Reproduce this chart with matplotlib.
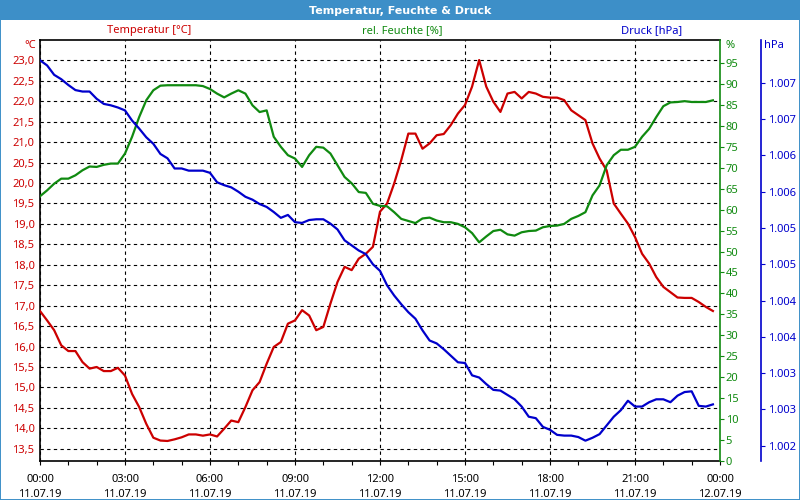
import numpy as np
import pandas as pd
import matplotlib
matplotlib.use("Agg")
import matplotlib.pyplot as plt
import matplotlib.dates as mdates
from matplotlib.patches import Rectangle
from matplotlib.ticker import FuncFormatter, FixedLocator

plt.rcParams["font.family"] = ["Noto Sans", "DejaVu Sans"]

# 15-minute readings, 11.07.19 00:00 .. 23:45
times = pd.date_range("2019-07-11 00:00", periods=96, freq="15min").to_numpy()

temperature = [
    16.87, 16.64, 16.40, 16.03, 15.89, 15.89, 15.62, 15.46,
    15.50, 15.40, 15.40, 15.48, 15.29, 14.84, 14.52, 14.11,
    13.77, 13.70, 13.69, 13.73, 13.78, 13.85, 13.85, 13.82,
    13.85, 13.80, 13.99, 14.19, 14.15, 14.52, 14.93, 15.13,
    15.58, 15.99, 16.11, 16.56, 16.64, 16.89, 16.76, 16.40,
    16.48, 17.05, 17.58, 17.95, 17.87, 18.15, 18.27, 18.44,
    19.30, 19.50, 19.99, 20.56, 21.21, 21.21, 20.84, 20.97,
    21.17, 21.20, 21.42, 21.70, 21.91, 22.36, 23.01, 22.36,
    21.99, 21.74, 22.19, 22.23, 22.07, 22.23, 22.19, 22.11,
    22.09, 22.09, 22.03, 21.78, 21.66, 21.54, 20.97, 20.60,
    20.31, 19.50, 19.25, 19.01, 18.68, 18.27, 18.03, 17.70,
    17.46, 17.33, 17.20, 17.19, 17.19, 17.09, 16.97, 16.87,
]

humidity = [
    63.2, 64.6, 66.2, 67.4, 67.4, 68.2, 69.4, 70.3,
    70.2, 70.7, 71.0, 71.0, 73.4, 77.4, 82.1, 86.1,
    88.5, 89.6, 89.7, 89.7, 89.7, 89.7, 89.7, 89.5,
    88.8, 87.7, 86.8, 87.7, 88.5, 87.7, 84.9, 83.3,
    83.7, 77.4, 75.0, 73.0, 72.2, 70.2, 73.0, 75.0,
    74.8, 73.4, 70.6, 67.8, 66.3, 64.2, 64.0, 61.4,
    60.9, 60.8, 59.4, 57.8, 57.3, 56.8, 57.9, 58.1,
    57.4, 57.0, 57.0, 56.6, 55.8, 54.4, 52.2, 53.6,
    54.9, 55.2, 54.1, 53.8, 54.6, 54.9, 55.0, 55.8,
    56.1, 56.2, 56.6, 57.8, 58.5, 59.4, 63.4, 65.8,
    70.6, 73.0, 74.3, 74.3, 75.0, 77.4, 79.3, 82.1,
    84.7, 85.6, 85.7, 85.9, 85.7, 85.7, 85.7, 86.1,
]

pressure = [
    1007.31, 1007.24, 1007.11, 1007.05, 1006.97, 1006.90, 1006.88, 1006.88,
    1006.78, 1006.71, 1006.69, 1006.66, 1006.62, 1006.48, 1006.37, 1006.25,
    1006.16, 1006.02, 1005.96, 1005.82, 1005.82, 1005.79, 1005.79, 1005.79,
    1005.76, 1005.63, 1005.59, 1005.56, 1005.50, 1005.43, 1005.39, 1005.33,
    1005.29, 1005.22, 1005.14, 1005.18, 1005.08, 1005.07, 1005.11, 1005.12,
    1005.12, 1005.06, 1004.98, 1004.83, 1004.76, 1004.69, 1004.64, 1004.50,
    1004.41, 1004.21, 1004.07, 1003.95, 1003.84, 1003.75, 1003.59, 1003.45,
    1003.41, 1003.33, 1003.24, 1003.15, 1003.14, 1002.97, 1002.94, 1002.85,
    1002.77, 1002.76, 1002.70, 1002.64, 1002.54, 1002.40, 1002.38, 1002.26,
    1002.22, 1002.15, 1002.14, 1002.14, 1002.12, 1002.07, 1002.11, 1002.16,
    1002.28, 1002.40, 1002.49, 1002.62, 1002.54, 1002.54, 1002.60, 1002.64,
    1002.64, 1002.60, 1002.69, 1002.74, 1002.75, 1002.55, 1002.54, 1002.57,
]

temp_ticks = [13.5, 14.0, 14.5, 15.0, 15.5, 16.0, 16.5, 17.0, 17.5, 18.0,
              18.5, 19.0, 19.5, 20.0, 20.5, 21.0, 21.5, 22.0, 22.5, 23.0]
hum_ticks = [0, 5, 10, 15, 20, 25, 30, 35, 40, 45,
             50, 55, 60, 65, 70, 75, 80, 85, 90, 95]
hpa_ticks = [1002.0, 1002.5, 1003.0, 1003.5, 1004.0, 1004.5,
             1005.0, 1005.5, 1006.0, 1006.5, 1007.0]

RED = "#cc0000"
GREEN = "#108a10"
BLUE = "#0000cc"
BAR = "#3d8fc8"
FS = 8


def fmt_temp(v, pos):
    return f"{v:.1f}".replace(".", ",")


def fmt_hpa(v, pos):
    # german thousands separator, half up
    n = int(np.floor(v + 0.5))
    return f"{n:,}".replace(",", ".")


fig = plt.figure(figsize=(8, 5), dpi=100)
fig.patch.set_facecolor("white")

# title bar and frame
fig.patches.append(Rectangle((0, 0.96), 1, 0.04, transform=fig.transFigure,
                             facecolor=BAR, edgecolor="none", zorder=0))
fig.patches.append(Rectangle((0.0006, 0.001), 0.9988, 0.998, transform=fig.transFigure,
                             facecolor="none", edgecolor=BAR, linewidth=1.4, zorder=0))
fig.text(0.5, 0.979, "Temperatur, Feuchte & Druck", color="white",
         fontsize=8, fontweight="bold", family=["DejaVu Sans"],
         ha="center", va="center")

ax = fig.add_axes([0.05, 0.078, 0.85, 0.842])
ax_h = ax.twinx()
ax_p = ax.twinx()

ax.plot(times, temperature, color=RED, linewidth=1.6, zorder=3)
ax_h.plot(times, humidity, color=GREEN, linewidth=1.6, zorder=3)
ax_p.plot(times, pressure, color=BLUE, linewidth=1.6, zorder=3)

ax.set_xlim(np.datetime64("2019-07-11T00:00"), np.datetime64("2019-07-12T00:00"))
ax.set_ylim(13.2, 23.5)
ax_h.set_ylim(0, 100.5)
ax_p.set_ylim(1001.79, 1007.59)

# x axis
ax.xaxis.set_major_locator(mdates.HourLocator(byhour=range(0, 24, 3)))
ax.xaxis.set_minor_locator(mdates.HourLocator())
ax.xaxis.set_major_formatter(mdates.DateFormatter("%H:%M\n%d.%m.%y"))
ax.tick_params(axis="x", which="both", length=3, width=0.8, labelsize=FS, pad=6)
for lbl in ax.get_xticklabels():
    lbl.set_linespacing(1.55)

# temperature axis
ax.yaxis.set_major_locator(FixedLocator(temp_ticks))
ax.yaxis.set_major_formatter(FuncFormatter(fmt_temp))
ax.tick_params(axis="y", length=0, labelsize=FS, labelcolor=RED, pad=4)
ax.grid(True, which="major", color="black", linestyle=(0, (3, 3)), linewidth=0.8)

# humidity axis
ax_h.yaxis.set_major_locator(FixedLocator(hum_ticks))
ax_h.tick_params(axis="y", length=3, width=0.8, color=GREEN, labelcolor=GREEN,
                 labelsize=FS, pad=1)
ax_h.spines["right"].set_color(GREEN)
ax_h.spines["right"].set_linewidth(1.2)
for s in ("left", "top", "bottom"):
    ax_h.spines[s].set_visible(False)

# pressure axis
ax_p.spines["right"].set_position(("axes", 1.0603))
ax_p.spines["right"].set_color(BLUE)
ax_p.spines["right"].set_linewidth(1.2)
for s in ("left", "top", "bottom"):
    ax_p.spines[s].set_visible(False)
ax_p.yaxis.set_major_locator(FixedLocator(hpa_ticks))
ax_p.yaxis.set_major_formatter(FuncFormatter(fmt_hpa))
ax_p.tick_params(axis="y", length=3, width=0.8, color=BLUE, labelcolor=BLUE,
                 labelsize=FS, pad=2)

ax.spines["right"].set_visible(False)
for s in ("left", "top", "bottom"):
    ax.spines[s].set_linewidth(1.2)

# header labels
fig.text(0.186, 0.938, "Temperatur [°C]", color=RED, fontsize=FS, ha="center", va="center")
fig.text(0.503, 0.938, "rel. Feuchte [%]", color=GREEN, fontsize=FS, ha="center", va="center")
fig.text(0.815, 0.938, "Druck [hPa]", color=BLUE, fontsize=FS, ha="center", va="center")
fig.text(0.045, 0.908, "°C", color=RED, fontsize=FS, ha="right", va="center")
fig.text(0.907, 0.908, "%", color=GREEN, fontsize=FS, ha="left", va="center")
fig.text(0.955, 0.908, "hPa", color=BLUE, fontsize=FS, ha="left", va="center")

fig.savefig("out.png", dpi=100)
